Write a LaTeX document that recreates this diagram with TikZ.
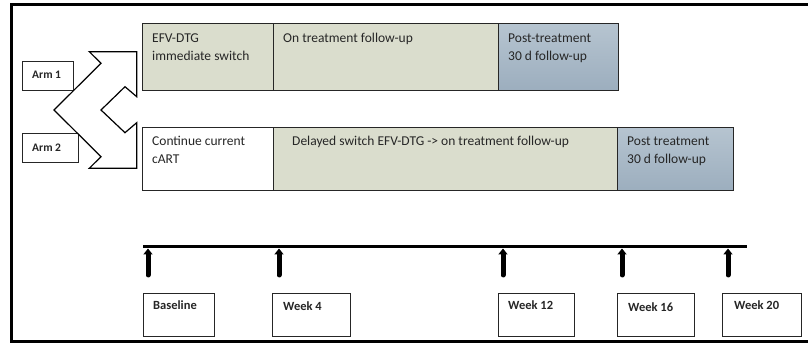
\documentclass[tikz,border=0pt]{standalone}
\usepackage{fontspec}
\setmainfont{Carlito}
\usetikzlibrary{arrows.meta}
\definecolor{phgreen}{RGB}{218,221,205}
\definecolor{phblueT}{RGB}{182,196,208}
\definecolor{phblueB}{RGB}{156,174,190}
\begin{document}
\begin{tikzpicture}[x=1pt,y=-1pt,
  box/.style={draw=black!85, line width=1pt, anchor=north west, inner sep=0pt},
  gbox/.style={box, fill=phgreen},
  bbox/.style={box, top color=phblueT, bottom color=phblueB},
  wbox/.style={box, fill=white},
  lbl/.style={anchor=base west, align=left, inner sep=0pt, font=\fontsize{13.5}{18}\selectfont, text=black!85},
  albl/.style={anchor=base west, inner sep=0pt, font=\fontsize{11.5}{13}\selectfont\bfseries, text=black!85},
  wlbl/.style={anchor=base west, inner sep=0pt, font=\fontsize{12.5}{14}\selectfont\bfseries, text=black!85},
  arr/.style={line width=5pt, line cap=round, -{Triangle[width=9pt,length=6pt]}}]
\useasboundingbox (0,0) rectangle (808,344);
% frame
\draw[line width=3pt] (812,5) -- (11,5) -- (11,342) -- (812,342);

% arm boxes
\node[wbox, minimum width=51pt, minimum height=29pt] (arm1) at (22,61) {};
\node[albl] (arm1t) at (32,79) {Arm 1};
\node[wbox, minimum width=56pt, minimum height=29pt] (arm2) at (22,133) {};
\node[albl] (arm2t) at (32,152) {Arm 2};

% chevron
\draw[line width=1.2pt, fill=white, line join=miter]
  (89.3,51.7) -- (136.7,51.7) -- (136.7,96.7) -- (125,86.7) -- (101,110)
  -- (125,132.7) -- (136.7,122.7) -- (136.7,168.3) -- (89.3,168.3)
  -- (101,156.7) -- (54,110) -- (101,63.3) -- cycle;

% row 1
\node[gbox, minimum width=131pt, minimum height=67pt] (efv) at (142,23) {};
\node[gbox, minimum width=225pt, minimum height=67pt] (on1) at (273,23) {};
\node[bbox, minimum width=120pt, minimum height=67pt] (post1) at (498,23) {};
\node[lbl] (efvt) at (152,61) {EFV-DTG\\immediate switch};
\node[lbl] (on1t) at (283,43) {On treatment follow-up};
\node[lbl] (post1t) at (508,61) {Post-treatment\\30 d follow-up};

% row 2
\node[wbox, minimum width=131pt, minimum height=63pt] (cont) at (142,127) {};
\node[gbox, minimum width=344pt, minimum height=63pt] (del) at (273,127) {};
\node[bbox, minimum width=116pt, minimum height=63pt] (post2) at (617,127) {};
\node[lbl] (contt) at (152,164) {Continue current\\cART};
\node[lbl] (delt) at (292,146) {Delayed switch EFV-DTG -> on treatment follow-up};
\node[lbl] (post2t) at (627,164) {Post treatment\\30 d follow-up};

% timeline
\coordinate (tlA) at (143,247);
\coordinate (tlB) at (747,247);
\draw[line width=3pt] (tlA) -- (tlB);
\foreach \i/\x in {1/148,2/279,3/503,4/622,5/728}{
  \coordinate (ab\i) at (\x,275);
  \coordinate (at\i) at (\x,248.5);
  \draw[arr] (ab\i) -- (at\i);
}

% week boxes
\node[wbox, minimum width=71pt, minimum height=43pt] (wb0) at (143,293) {};
\node[wbox, minimum width=78pt, minimum height=43pt] (wb4) at (272,293) {};
\node[wbox, minimum width=76pt, minimum height=43pt] (wb12) at (498,293) {};
\node[wbox, minimum width=77pt, minimum height=43pt] (wb16) at (617,293) {};
\node[wbox, minimum width=79pt, minimum height=43pt] (wb20) at (722,293) {};
\node[wlbl] (wt0) at (153,310) {Baseline};
\node[wlbl] (wt4) at (283,311) {Week 4};
\node[wlbl] (wt12) at (508,310) {Week 12};
\node[wlbl] (wt16) at (628,312) {Week 16};
\node[wlbl] (wt20) at (734,310) {Week 20};
\end{tikzpicture}
\end{document}
